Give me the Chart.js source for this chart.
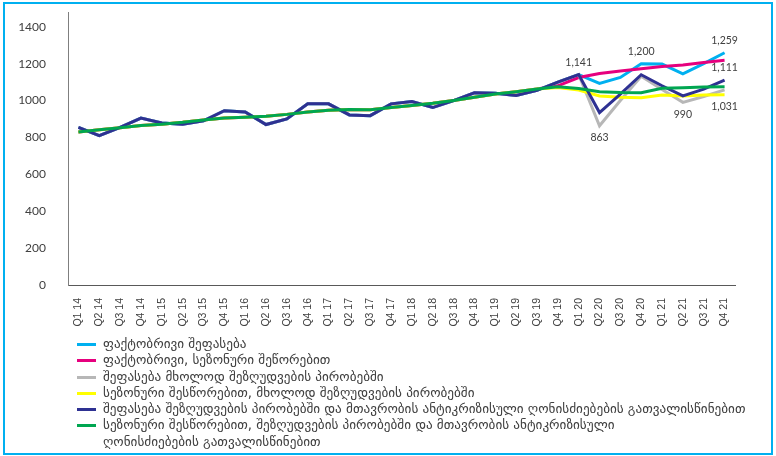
<!DOCTYPE html>
<html>
<head>
<meta charset="utf-8">
<script src="https://cdn.jsdelivr.net/npm/chart.js@4.4.0/dist/chart.umd.min.js"></script>
<style>
  html, body { margin: 0; padding: 0; background: #fff; }
  body { width: 776px; height: 456px; position: relative; overflow: hidden; }
  #frame { position: absolute; left: 3px; top: 2px; width: 766px; height: 449px; border: 2px solid #00b0f0; }
  #myChart { position: absolute; left: 0; top: 0; }
  #legend { position: absolute; left: 77px; top: 336px; width: 690px;
            font-family: "DejaVu Sans", sans-serif; font-size: 13.2px; color: #404040; }
  .item { display: flex; align-items: flex-start; line-height: 16.3px; white-space: nowrap; }
  .item.wrap { white-space: normal; }
  .item.wrap span.txt { max-width: 550px; }
  .swatch { flex: 0 0 19px; height: 3px; margin-top: 7px; margin-right: 7px; }
</style>
</head>
<body>
<div id="frame"></div>
<canvas id="myChart" width="776" height="340"></canvas>
<div id="legend"></div>
<script>
// quarters
var labels = ['Q1 14','Q2 14','Q3 14','Q4 14','Q1 15','Q2 15','Q3 15','Q4 15',
              'Q1 16','Q2 16','Q3 16','Q4 16','Q1 17','Q2 17','Q3 17','Q4 17',
              'Q1 18','Q2 18','Q3 18','Q4 18','Q1 19','Q2 19','Q3 19','Q4 19',
              'Q1 20','Q2 20','Q3 20','Q4 20','Q1 21','Q2 21','Q3 21','Q4 21'];

var seriesNames = [
    'ფაქტობრივი შეფასება',
    'ფაქტობრივი, სეზონური შეწორებით',
    'შეფასება მხოლოდ შეზღუდვების პირობებში',
    'სეზონური შესწორებით, მხოლოდ შეზღუდვების პირობებში',
    'შეფასება შეზღუდვების პირობებში და მთავრობის ანტიკრიზისული ღონისძიებების გათვალისწინებით',
    'სეზონური შესწორებით, შეზღუდვების პირობებში და მთავრობის ანტიკრიზისული ღონისძიებების გათვალისწინებით'
];

var actual = [855, 810, 855, 905, 878, 872, 890, 945, 938, 870, 900, 982, 982, 922, 918, 982,
              995, 962, 1000, 1042, 1040, 1028, 1055, 1100, 1141, 1093, 1125, 1200, 1198, 1145, 1200, 1259];
var actualSA = [830, 842, 852, 865, 872, 882, 895, 905, 910, 915, 925, 938, 948, 952, 950, 962,
                973, 985, 1000, 1018, 1035, 1048, 1062, 1080, 1125, 1147, 1160, 1172, 1185, 1193, 1206, 1218];
var restrOnly = [855, 810, 855, 905, 878, 872, 890, 945, 938, 870, 900, 982, 982, 922, 918, 982,
                 995, 962, 1000, 1042, 1040, 1028, 1055, 1100, 1141, 863, 1000, 1132, 1060, 990, 1022, 1058];
var restrOnlySA = [830, 842, 852, 865, 872, 882, 895, 905, 910, 915, 925, 938, 948, 952, 950, 962,
                   973, 985, 1000, 1018, 1035, 1048, 1062, 1070, 1057, 1025, 1018, 1015, 1030, 1025, 1030, 1031];
var restrGov = [855, 810, 855, 905, 878, 872, 890, 945, 938, 870, 900, 982, 982, 922, 918, 982,
                995, 962, 1000, 1042, 1040, 1028, 1055, 1100, 1141, 935, 1035, 1140, 1080, 1025, 1062, 1111];
var restrGovSA = [830, 842, 852, 865, 872, 882, 895, 905, 910, 915, 925, 938, 948, 952, 950, 962,
                  973, 985, 1000, 1018, 1035, 1048, 1062, 1075, 1065, 1048, 1043, 1042, 1066, 1070, 1073, 1075];

var yTicks = [0, 200, 400, 600, 800, 1000, 1200, 1400];

var colors = ['#00b0f0', '#e6007e', '#b7b7b7', '#ffff00', '#2e3192', '#00a651'];
var values = [actual, actualSA, restrOnly, restrOnlySA, restrGov, restrGovSA];

// which points get a value label: [dataset, point, 'above'|'below']
var pointLabels = [[4, 24, 'above'], [2, 25, 'below'], [0, 27, 'above'], [2, 29, 'below'],
                   [0, 31, 'above'], [4, 31, 'above'], [3, 31, 'below']];

var valueLabelPlugin = {
    id: 'valueLabels',
    afterDatasetsDraw: function(chart) {
        var ctx = chart.ctx;
        ctx.save();
        ctx.font = '10.5px Lato, sans-serif';
        ctx.fillStyle = '#404040';
        ctx.textAlign = 'center';
        ctx.textBaseline = 'middle';
        pointLabels.forEach(function(p) {
            var el = chart.getDatasetMeta(p[0]).data[p[1]];
            var v = chart.data.datasets[p[0]].data[p[1]];
            var dy = p[2] === 'above' ? -12 : 12;
            ctx.fillText(v.toLocaleString('en-US'), el.x, el.y + dy);
        });
        ctx.restore();
    }
};

function renderChart() {
    var ctx = document.getElementById('myChart').getContext('2d');

    var datasets = values.map(function(v, i) {
        return {
            label: seriesNames[i],
            data: v,
            borderColor: colors[i],
            backgroundColor: colors[i],
            borderWidth: 3,
            pointRadius: 0,
            tension: 0,
            fill: false,
            order: 5 - i   // later series on top, like the original
        };
    });

    var myChart = new Chart(ctx, {
        type: 'line',
        data: { labels: labels, datasets: datasets },
        options: {
            responsive: false,
            animation: false,
            layout: { padding: { top: 12, right: 41, left: 0, bottom: 0 } },
            plugins: { legend: { display: false }, tooltip: { enabled: false } },
            scales: {
                x: {
                    offset: true,
                    grid: { display: false },
                    border: { display: true, color: '#595959', width: 1 },
                    ticks: {
                        autoSkip: false, minRotation: 90, maxRotation: 90, padding: 5,
                        color: '#404040', font: { family: '"Liberation Sans Narrow", "Liberation Sans", sans-serif', size: 10.5 }
                    },
                    afterFit: function(scale) { scale.height = 55; }
                },
                y: {
                    min: 0, max: 1480,
                    grid: { display: false },
                    border: { display: true, color: '#7f7f7f', width: 1 },
                    ticks: {
                        padding: 14, color: '#404040', font: { family: 'Lato, sans-serif', size: 12 },
                        callback: function(v) { return String(v); }
                    },
                    afterBuildTicks: function(scale) {
                        scale.ticks = yTicks.map(function(t) { return { value: t }; });
                    },
                    afterFit: function(scale) {
                        scale.width = 68;
                        scale.paddingTop = 0;
                        scale.paddingBottom = 0;
                    }
                }
            }
        },
        plugins: [valueLabelPlugin]
    });

    // legend as a single column under the chart
    var legend = document.getElementById('legend');
    datasets.forEach(function(ds, i) {
        var row = document.createElement('div');
        row.className = i === datasets.length - 1 ? 'item wrap' : 'item';
        var sw = document.createElement('span');
        sw.className = 'swatch';
        sw.style.background = ds.borderColor;
        var txt = document.createElement('span');
        txt.className = 'txt';
        txt.textContent = ds.label;
        row.appendChild(sw);
        row.appendChild(txt);
        legend.appendChild(row);
    });
}

renderChart();
</script>
</body>
</html>
